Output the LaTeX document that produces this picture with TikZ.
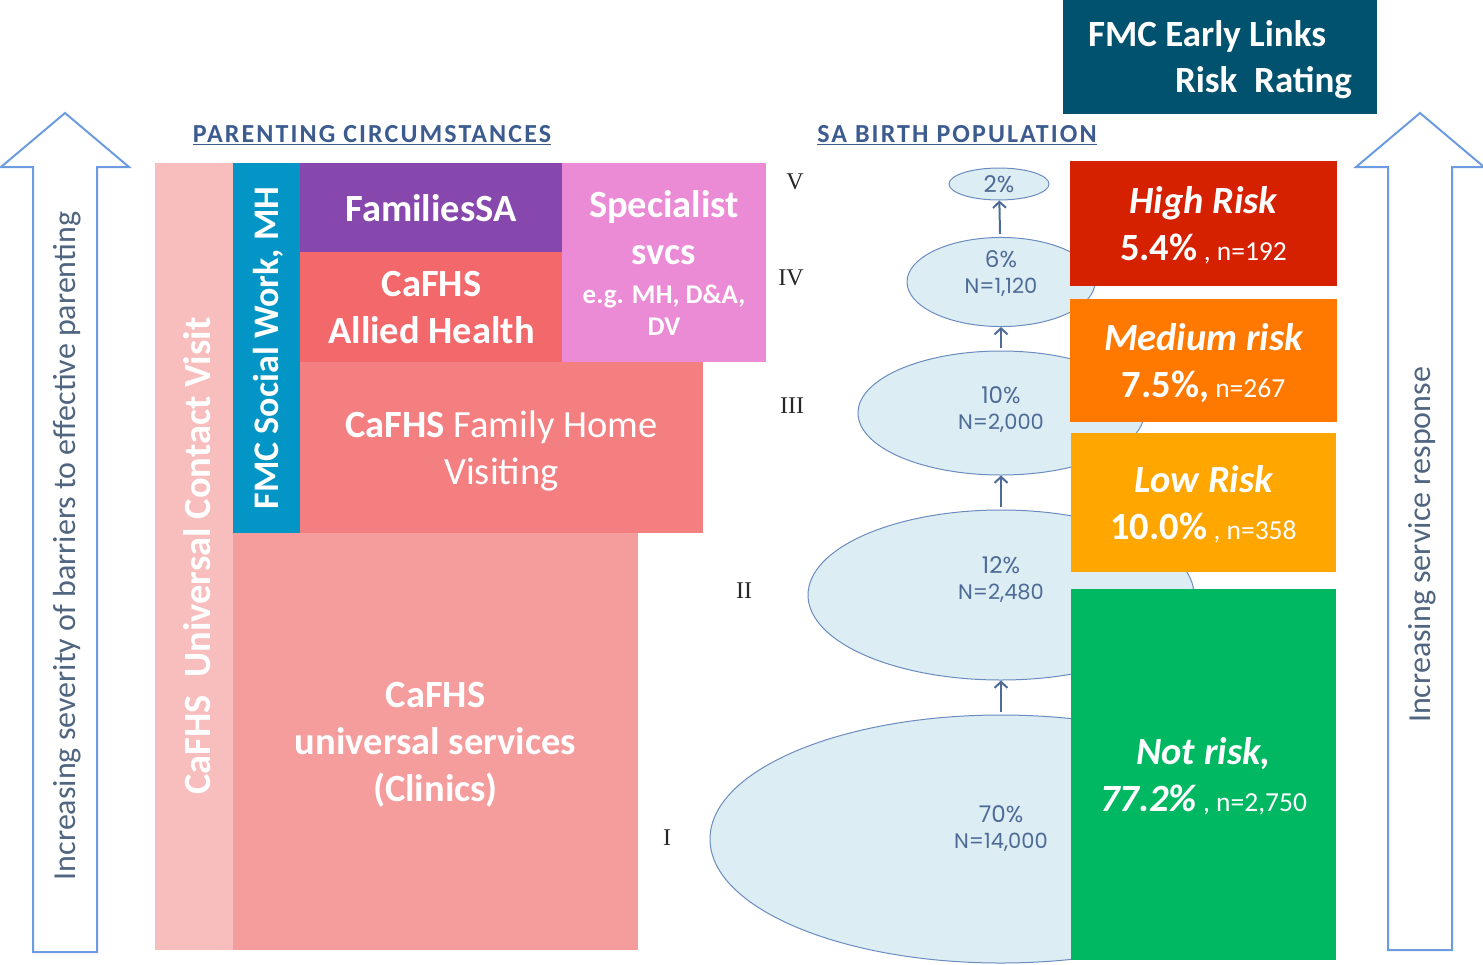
\documentclass[tikz,border=0pt]{standalone}
\usepackage{fontspec}
\setmainfont{Carlito}
\newfontfamily\popfont{Poppins}
\newfontfamily\numfont{Liberation Serif}
\usetikzlibrary{positioning,shapes.geometric,arrows.meta}

\definecolor{ucvpink}{HTML}{F8BDBD}
\definecolor{swblue}{HTML}{0395C6}
\definecolor{fsapurple}{HTML}{8748AD}
\definecolor{ahred}{HTML}{F3686B}
\definecolor{specpink}{HTML}{EB8AD5}
\definecolor{hvpink}{HTML}{F47F81}
\definecolor{clinpink}{HTML}{F59C9D}
\definecolor{hdrteal}{HTML}{00526E}
\definecolor{hired}{HTML}{D62100}
\definecolor{medorange}{HTML}{FF7800}
\definecolor{lowamber}{HTML}{FFA600}
\definecolor{notgreen}{HTML}{00B862}
\definecolor{arrowedge}{HTML}{6D9BE0}
\definecolor{arrowtxt}{HTML}{4F6580}
\definecolor{headblue}{HTML}{3C5B8F}
\definecolor{popfill}{HTML}{DCEDF4}
\definecolor{popedge}{HTML}{6B8CBF}
\definecolor{poptext}{HTML}{4D6B96}

% font size in bp, with baselineskip
\newcommand{\fsz}[2]{\fontsize{#1bp}{#2bp}\selectfont}

\begin{document}
\begin{tikzpicture}
	[   x=1bp, y=-1bp,
	    box/.style={fill=#1,inner sep=0pt,text=white,align=center,text depth=-14bp,font=\bfseries\fsz{38.5}{47}},
	    size/.style 2 args={minimum width=#1bp,minimum height=#2bp},
	    pop/.style={ellipse,draw=popedge,line width=1bp,fill=popfill,inner sep=0pt,text=poptext,align=center,font=\popfont\fsz{21}{26}},
	    heading/.style={text=headblue,font=\bfseries\fsz{26}{30}\addfontfeatures{LetterSpace=8}},
	    bigarrow/.style={draw=arrowedge,line width=2bp,fill=white},
	    arrowtext/.style={rotate=90,text=arrowtxt,font=\fsz{32}{36}},
	    roman/.style={font=\numfont\fsz{24}{26},text=black!85},
	]
	\tikzset{uparrow/.style={draw=poptext,line width=2bp,shorten <=3bp,-{Straight Barb[length=6bp,width=13bp]}}}
	\useasboundingbox (0,0) rectangle (1483,964);

	% the two tall arrows at the sides
	\foreach \cx/\bot in {65/952, 1420/950}
	{
		\draw[bigarrow] (\cx-32,\bot) -- (\cx-32,167) -- (\cx-64,167) -- (\cx,113)
			-- (\cx+64,167) -- (\cx+32,167) -- (\cx+32,\bot) -- cycle;
	}
	\node[arrowtext] (sev) at (67,546) {Increasing severity of barriers to effective parenting};
	\node[arrowtext] (resp) at (1422,545) {Increasing service response};

	\node[heading] (pc) at (372,135) {\underline{PARENTING CIRCUMSTANCES}};
	\node[heading] (sab) at (957,135) {\underline{SA BIRTH POPULATION}};

	% services stack
	\node[box=ucvpink, size={78}{787}] (ucv) at (194,556.5) {};
	\node[box=swblue, size={67}{370}] (sw) at (266.5,348) {};
	\node[box=fsapurple, size={262}{89}] (fsa) at (431,207.5) {FamiliesSA};
	\node[box=ahred, size={263}{110}] (ah) at (431.5,307) {CaFHS\\Allied Health};
	\node[box=specpink, size={204}{199}, text depth=-21bp] (spec) at (664,262.5)
		{Specialist\\svcs\\[-8bp]{\fsz{27}{32}e.g. MH, D\&A,}\\[-15bp]{\fsz{27}{32}DV}};
	\node[box=hvpink, size={403}{171}, font=\fsz{38.5}{47}] (hv) at (501.5,447.5) {\textbf{CaFHS} Family Home\\Visiting};
	\node[box=clinpink, size={405}{417}] (clin) at (435.5,741.5) {CaFHS\\universal services\\(Clinics)};
	\node[rotate=90, text=white, font=\bfseries\fsz{38.5}{40}] (ucv-t) at (197,556) {CaFHS~~Universal Contact Visit};
	\node[rotate=90, text=white, font=\bfseries\fsz{36}{40}] (sw-t) at (268,348) {FMC Social Work, MH};

	% population levels
	\foreach \nm/\cy/\w/\h/\pc/\nn/\dep in {pI/839/582/248/70/{14,000}/24, pII/595/386/170/12/{2,480}/34,
		pIII/413/286/124/10/{2,000}/10, pIV/282/188/80/6/{1,120}/20}
	{
		\node[pop, size={\w}{\h}, text depth=\dep bp] (\nm) at (1001,\cy)
			{{\fsz{23}{26}\pc\%}\\N=\nn};
	}
	\node[pop, size={100}{32}, font=\popfont\fsz{23}{26}] (pV) at (999,184) {2\%};
	\foreach \a/\b in {pI/pII, pII/pIII, pIII/pIV, pIV/pV}
		\draw[uparrow] (\a) -- (\b);

	\node[roman] (rV) at (795,182) {V};
	\node[roman] (rIV) at (791,278) {IV};
	\node[roman] (rIII) at (792,406) {III};
	\node[roman] (rII) at (744,591) {II};
	\node[roman] (rI) at (667,838) {I};

	% risk rating
	\node[box=hdrteal, size={314}{114}, font=\bfseries\fsz{37}{46}, align=left, text depth=-23bp] (hdr) at (1220,57)
		{FMC Early Links\\\hspace*{87bp}Risk~~Rating};
	\node[box=hired, size={267}{125}, text depth=-16bp] (hi) at (1203.5,223.5)
		{{\itshape High Risk}\\5.4\%{\mdseries\fsz{27.5}{47} , n=192}};
	\node[box=medorange, size={267}{123}, text depth=-16bp] (med) at (1203.5,360.5)
		{{\itshape Medium risk}\\7.5\%,{\mdseries\fsz{27.5}{47} n=267}};
	\node[box=lowamber, size={265}{139}] (low) at (1203.5,502.5)
		{{\itshape Low Risk}\\10.0\%{\mdseries\fsz{27.5}{47} , n=358}};
	\node[box=notgreen, size={265}{371}] (not) at (1203.5,774.5)
		{{\itshape Not risk,}\\{\itshape 77.2\%}{\mdseries\fsz{27.5}{47} , n=2,750}};
\end{tikzpicture}
\end{document}
